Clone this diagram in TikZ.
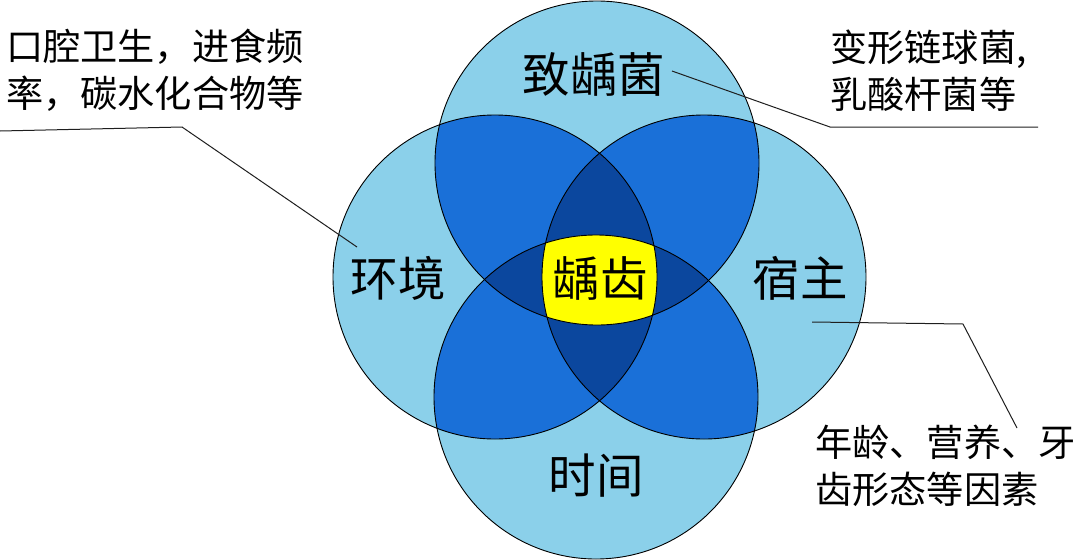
\documentclass[tikz,border=0pt]{standalone}
\usepackage{fontspec}
\setmainfont{Noto Sans CJK SC}
\definecolor{cLight}{RGB}{139,208,234}
\definecolor{cMid}{RGB}{26,112,216}
\definecolor{cDark}{RGB}{11,71,158}
\definecolor{cYel}{RGB}{255,255,0}
\definecolor{cLead}{RGB}{30,30,30}
\begin{document}
\begin{tikzpicture}[x=1pt,y=-1pt,
  ring/.style={draw=black, line width=0.9pt},
  bigtxt/.style={inner sep=0pt, font=\fontsize{47.5}{50}\selectfont},
  notetxt/.style={inner sep=0pt, align=left, anchor=north west, font=\fontsize{37.2}{47}\selectfont},
  leader/.style={draw=cLead, line width=1pt}]
\useasboundingbox (0,0) rectangle (1080,560);
\coordinate (cT) at (597,163);
\coordinate (cB) at (596,397);
\coordinate (cL) at (495,277);
\coordinate (cR) at (704,277);
\def\rad{162pt}
% single
\foreach \c in {cT,cB,cL,cR} \fill[cLight] (\c) circle[radius=\rad];
% pairs
\foreach \a/\b in {cT/cL,cT/cR,cB/cL,cB/cR} {
  \begin{scope}
    \clip (\a) circle[radius=\rad];
    \fill[cMid] (\b) circle[radius=\rad];
  \end{scope}
}
% triples
\begin{scope}
  \clip (cT) circle[radius=\rad];
  \fill[cDark] (cB) circle[radius=\rad];
\end{scope}
\begin{scope}
  \clip (cL) circle[radius=\rad];
  \fill[cDark] (cR) circle[radius=\rad];
\end{scope}
% quadruple
\begin{scope}
  \clip (cT) circle[radius=\rad];
  \clip (cB) circle[radius=\rad];
  \clip (cL) circle[radius=\rad];
  \fill[cYel] (cR) circle[radius=\rad];
\end{scope}
\foreach \c in {cT,cB,cL,cR} \draw[ring] (\c) circle[radius=\rad];

% labels
\node[bigtxt] (bac) at (594,74) {致龋菌};
\node[bigtxt] (env) at (398,278) {环境};
\node[bigtxt] (car) at (600,278) {龋齿};
\node[bigtxt] (host) at (800,278) {宿主};
\node[bigtxt] (time) at (596,476) {时间};

\node[notetxt] (nEnv) at (6,29) {口腔卫生，进食频\\率，碳水化合物等};
\node[notetxt] (nBac) at (830,30) {变形链球菌,\\乳酸杆菌等};
\node[notetxt] (nHost) at (815,425) {年龄、营养、牙\\齿形态等因素};

% leaders
\coordinate (eA) at (0,131);
\coordinate (eB) at (182,127);
\coordinate (eC) at (357,247);
\draw[leader] (eA) -- (eB) -- (eC);
\coordinate (bA) at (672,71);
\coordinate (bB) at (830,127);
\coordinate (bC) at (1038,127);
\draw[leader] (bA) -- (bB) -- (bC);
\coordinate (hA) at (812,322);
\coordinate (hB) at (963,324);
\coordinate (hC) at (1017,428);
\draw[leader] (hA) -- (hB) -- (hC);
\end{tikzpicture}
\end{document}
